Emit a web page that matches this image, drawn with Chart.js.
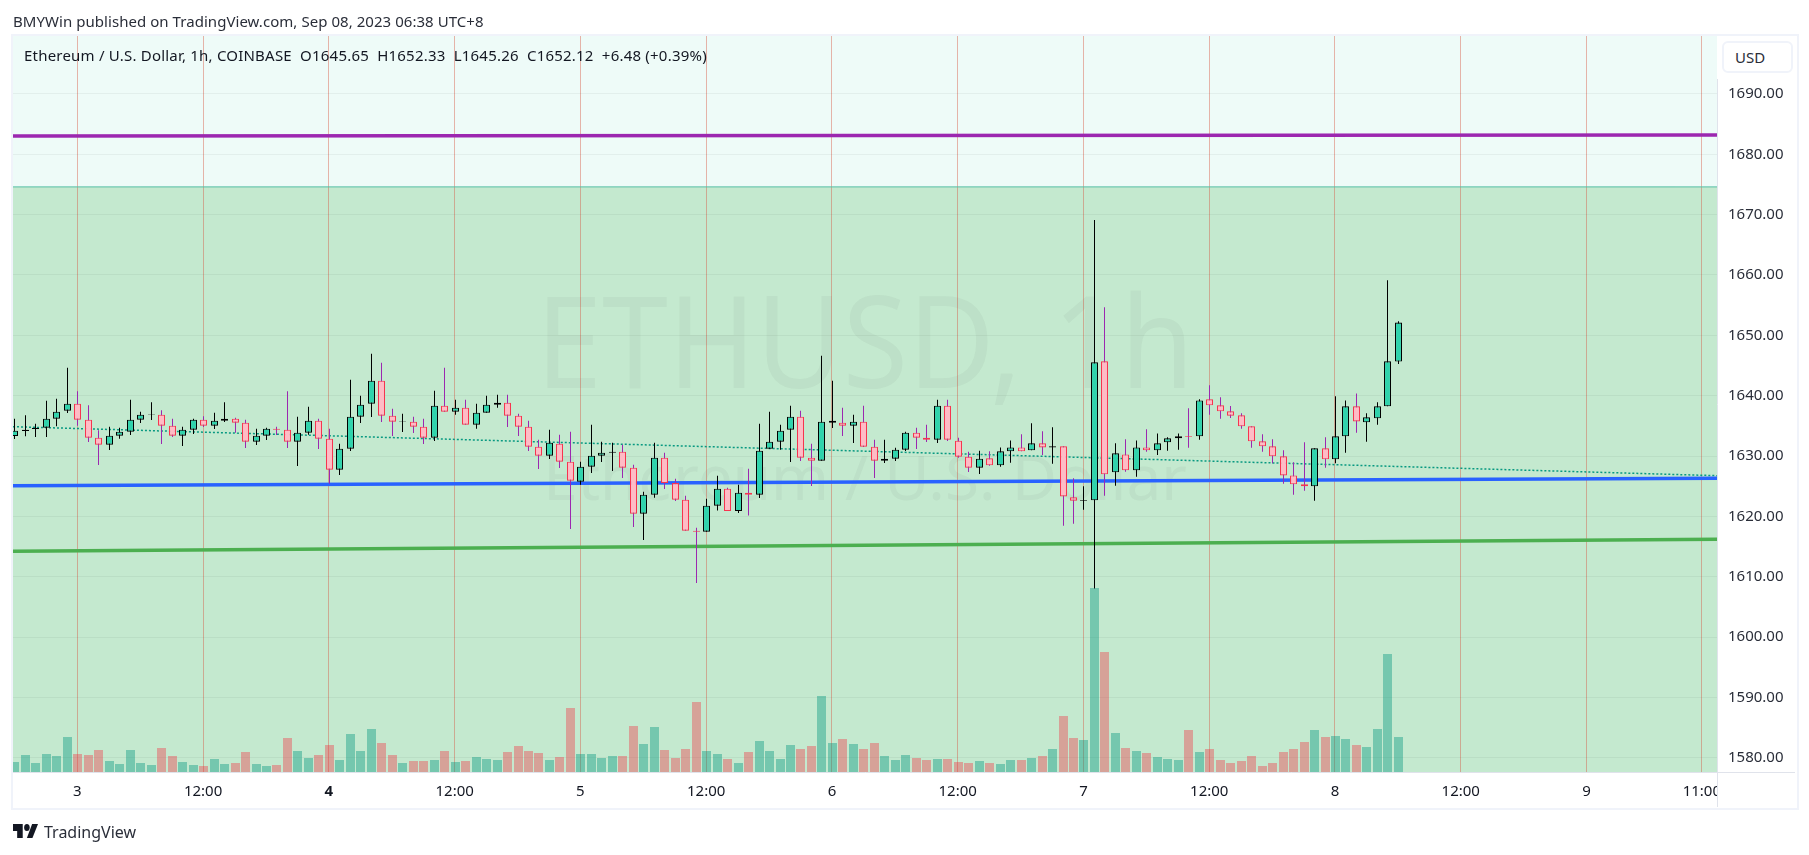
<!DOCTYPE html>
<html>
<head>
<meta charset="utf-8">
<title>ETHUSD, 1h</title>
<script src="https://cdn.jsdelivr.net/npm/chart.js@4"></script>
<style>
    html, body { margin: 0; background: #fff; }
    body { position: relative; width: 1809px; height: 855px; overflow: hidden; font-family: "Noto Sans", sans-serif; color: #131722; }
    canvas { position: absolute; left: 0; top: 0; }
    .abs { position: absolute; white-space: pre; }
    #frame { left: 11px; top: 34px; width: 1784px; height: 772px; border: 2px solid #f0f3fa; }
    #header { left: 13px; top: 11px; font-size: 15px; line-height: 20px; letter-spacing: 0.05px; color: #2a2e39; }
    #legend { left: 24px; top: 45px; font-size: 15px; line-height: 20px; letter-spacing: 0.21px; }
    #usdcell { left: 1717px; top: 36px; width: 78px; height: 43px; background: #fff; }
    #usd { left: 1722px; top: 41px; width: 67px; height: 28px; border: 2px solid #f0f3fa; border-radius: 6px; background: #fff; font-size: 15px; line-height: 29px; padding-left: 0; text-indent: 11px; color: #2a2e39; }
    #corner { left: 1717px; top: 772px; width: 77px; height: 34px; background: #fff; border-left: 1px solid #e0e3eb; border-top: 1px solid #e0e3eb; }
    #logo { left: 13px; top: 824px; }
    #brand { left: 44px; top: 820px; font-size: 16px; line-height: 24px; color: #2a2e39; }
</style>
</head>
<body>
<canvas id="chart" width="1809" height="855"></canvas>
<div class="abs" id="frame"></div>
<div class="abs" id="header">BMYWin published on TradingView.com, Sep 08, 2023 06:38 UTC+8</div>
<div class="abs" id="legend">Ethereum / U.S. Dollar, 1h, COINBASE  O1645.65  H1652.33  L1645.26  C1652.12  +6.48 (+0.39%)</div>
<div class="abs" id="usdcell"></div>
<div class="abs" id="usd">USD</div>
<div class="abs" id="corner"></div>
<svg class="abs" id="logo" width="25" height="14" viewBox="0 6 36 16" preserveAspectRatio="none"><path fill="#131722" d="M14 6H0v8h6v8h8V6Z"/><circle fill="#131722" cx="20" cy="10" r="4"/><path fill="#131722" d="M28 22h-8l7.5-16H36l-8 16Z"/></svg>
<div class="abs" id="brand">TradingView</div>
<script>
// hourly candles, Sep 2 18:00 to Sep 8 06:00
const opens = [1633.31,1634.14,1634.47,1634.69,1636.19,1637.51,1638.67,1636.02,1633.04,1631.88,1633.37,1634.03,1636.02,1636.79,1636.85,1635.03,1633.37,1634.36,1636.02,1635.03,1635.85,1636.19,1635.52,1632.37,1633.37,1634.53,1634.36,1632.37,1633.87,1635.85,1632.87,1627.73,1631.21,1636.52,1638.67,1642.48,1636.68,1635.63,1635.69,1634.86,1633.04,1638.34,1637.35,1638.01,1635.19,1637.18,1638.51,1638.84,1636.68,1634.86,1631.55,1630.05,1632.04,1629.06,1625.74,1628.23,1630.05,1630.55,1630.72,1628.06,1620.44,1623.59,1629.72,1625.52,1622.76,1617.62,1617.46,1621.77,1624.58,1620.88,1623.92,1623.59,1631.21,1632.37,1634.36,1636.52,1629.72,1629.22,1635.52,1635.52,1635.03,1635.69,1631.55,1629.22,1629.56,1631.05,1633.87,1633.04,1632.71,1638.34,1632.54,1629.89,1628.06,1629.61,1628.45,1630.77,1631.43,1630.94,1632.10,1631.43,1631.60,1623.15,1622.59,1622.65,1645.69,1627.29,1630.27,1627.62,1631.43,1630.94,1632.26,1632.93,1633.31,1633.26,1639.39,1638.40,1637.40,1636.74,1634.92,1632.43,1631.60,1629.94,1626.79,1625.30,1624.97,1631.27,1629.45,1633.26,1638.23,1635.58,1636.24,1638.23,1645.65];
const highs = [1636.19,1636.74,1635.36,1639.17,1639.50,1644.64,1640.72,1638.40,1634.25,1634.86,1634.69,1639.34,1637.35,1638.89,1637.57,1636.19,1634.86,1636.19,1636.57,1637.18,1638.89,1636.35,1636.02,1634.53,1634.69,1634.86,1640.72,1636.52,1638.18,1636.19,1634.53,1632.04,1642.65,1640.00,1646.96,1645.47,1637.84,1637.01,1636.52,1636.19,1640.83,1644.64,1639.34,1639.34,1638.67,1640.00,1640.16,1640.16,1637.01,1635.85,1632.71,1634.36,1633.53,1634.03,1629.06,1635.19,1632.37,1632.21,1631.88,1628.56,1624.09,1632.21,1630.55,1626.24,1623.42,1618.12,1622.93,1626.74,1624.75,1625.25,1627.90,1635.36,1637.35,1635.19,1638.34,1637.51,1632.04,1646.63,1642.48,1638.01,1636.85,1638.34,1632.71,1632.71,1631.38,1634.03,1634.69,1635.19,1639.34,1639.34,1633.04,1630.72,1630.88,1630.77,1631.43,1632.59,1633.59,1635.41,1634.09,1634.75,1631.60,1626.30,1624.97,1669.11,1654.64,1632.10,1632.76,1632.59,1634.42,1633.75,1633.09,1633.75,1637.90,1639.39,1641.71,1639.72,1638.29,1637.07,1634.92,1633.59,1632.76,1630.94,1628.95,1632.26,1631.27,1633.09,1639.89,1639.22,1640.38,1637.07,1638.89,1659.11,1652.33];
const lows = [1632.82,1633.26,1633.15,1633.15,1634.92,1637.13,1635.03,1632.32,1628.51,1630.99,1632.87,1633.48,1635.47,1635.97,1631.99,1633.15,1631.66,1633.64,1634.80,1634.47,1635.63,1633.87,1631.32,1631.82,1632.65,1633.48,1631.32,1628.34,1633.53,1631.16,1625.41,1626.85,1630.83,1635.47,1636.46,1635.63,1633.31,1633.98,1633.81,1631.99,1632.48,1637.35,1636.85,1635.19,1634.53,1637.18,1638.01,1634.80,1633.31,1630.83,1627.84,1629.50,1628.01,1617.90,1625.25,1627.18,1629.00,1627.51,1626.35,1618.23,1616.08,1623.09,1624.53,1622.54,1617.62,1608.95,1617.46,1620.99,1620.88,1620.55,1620.16,1623.04,1631.21,1631.05,1629.00,1629.17,1625.03,1629.22,1634.64,1633.31,1632.15,1631.49,1626.35,1628.84,1629.17,1630.83,1631.16,1632.32,1632.15,1632.48,1629.72,1627.35,1627.01,1628.40,1628.23,1628.89,1630.77,1630.94,1630.16,1628.73,1618.45,1618.78,1621.10,1608.06,1623.42,1625.08,1627.40,1626.57,1630.72,1630.16,1630.88,1631.05,1631.38,1632.71,1636.85,1636.19,1636.30,1634.53,1631.38,1630.72,1628.78,1625.41,1623.59,1624.25,1622.59,1628.06,1628.78,1630.55,1633.87,1632.37,1635.19,1638.23,1645.26];
const closes = [1634.20,1634.36,1634.69,1636.19,1637.35,1638.67,1636.02,1633.04,1631.88,1633.37,1634.03,1636.02,1636.85,1636.90,1635.03,1633.37,1634.36,1636.02,1635.03,1635.85,1636.19,1635.52,1632.37,1633.37,1634.53,1634.36,1632.37,1633.87,1635.85,1632.87,1627.73,1631.21,1636.52,1638.51,1642.48,1636.68,1635.69,1635.74,1634.86,1633.04,1638.34,1637.35,1638.01,1635.19,1637.18,1638.51,1638.84,1636.68,1634.86,1631.55,1630.05,1632.21,1629.06,1625.91,1628.23,1630.05,1630.55,1630.72,1628.06,1620.44,1623.59,1629.72,1625.52,1622.76,1617.62,1617.46,1621.77,1624.58,1620.88,1623.92,1623.59,1630.88,1632.37,1634.20,1636.52,1629.72,1629.22,1635.69,1635.85,1635.03,1635.69,1631.55,1629.22,1629.56,1631.05,1633.87,1633.04,1632.71,1638.34,1632.71,1629.89,1628.06,1629.56,1628.45,1630.77,1631.43,1630.77,1632.10,1631.43,1631.60,1623.31,1622.59,1622.70,1645.52,1626.96,1630.44,1627.62,1631.43,1630.94,1632.10,1632.93,1633.26,1633.20,1639.22,1638.40,1637.40,1636.68,1634.92,1632.43,1631.60,1629.94,1626.79,1625.30,1624.97,1631.27,1629.45,1633.26,1638.23,1635.74,1636.41,1638.23,1645.69,1652.12];
// no volume scale on the picture: these are bar heights as read off it
const volumes = [10,17,9,18,16,35,18,17,22,11,8,22,9,7,24,16,10,7,6,13,8,9,20,8,6,7,34,21,14,17,27,12,38,21,43,29,17,9,11,11,12,21,10,11,15,13,12,20,26,21,19,12,15,64,18,18,14,16,16,46,28,45,22,14,23,70,21,18,13,9,20,31,21,13,27,23,26,76,29,33,28,23,29,16,12,17,14,12,13,13,10,9,11,9,8,12,12,14,16,23,56,34,32,184,120,39,24,21,19,15,13,12,42,20,23,12,9,11,16,6,9,20,23,30,42,35,36,33,27,25,43,118,35];

const xTicks = [6,18,30,42,54,66,78,90,102,114,126,138,150,161];
const xLabels = ['3','12:00','4','12:00','5','12:00','6','12:00','7','12:00','8','12:00','9','11:00'];
const priceTicks = [1580,1590,1600,1610,1620,1630,1640,1650,1660,1670,1680,1690];

const xMin = -0.14, xMax = 162.45;
const priceMin = 1577.63, priceMax = 1699.61;
const volumeMax = 736;
const zoneTop = 1674.6;

// drawn lines: value at the left and the right end of the plot
const lineEnds = [xMin, xMax];
const purpleLine = [1683.03, 1683.2];
const blueLine = [1625.08, 1626.3];
const greenLine = [1614.2, 1616.2];
const dottedLine = [1634.86, 1626.74];
const zoneLine = [zoneTop, zoneTop];

const UP_BODY = '#2fd3ac', DOWN_BODY = '#ffbbc5';
const DOWN_EDGE = '#f7344f', WICK_DOWN = '#9c27b0';

function isUp(i) { return closes[i] >= opens[i]; }

function endPoints(values) {
    return lineEnds.map((x, i) => ({ x: x, y: values[i] }));
}

function trendLine(label, values, color, width) {
    return {
        type: 'line',
        label: label,
        data: endPoints(values),
        borderColor: color,
        borderWidth: width,
        pointRadius: 0,
        order: 4,
    };
}

// zones and watermark go under the grid and the candles
const backdrop = {
    id: 'backdrop',
    beforeDraw(chart) {
        const { ctx, chartArea: area, scales } = chart;
        const edge = scales.y.getPixelForValue(zoneTop);
        ctx.save();
        ctx.fillStyle = '#eefbf8';
        ctx.fillRect(area.left, area.top, area.width, edge - area.top);
        ctx.fillStyle = '#c4e9cf';
        ctx.fillRect(area.left, edge, area.width, area.bottom - edge);
        ctx.restore();
    },
    beforeDatasetsDraw(chart) {
        const { ctx, chartArea: area } = chart;
        const mid = (area.left + area.right) / 2;
        ctx.save();
        ctx.fillStyle = 'rgba(42, 46, 57, 0.045)';
        ctx.textAlign = 'center';
        ctx.textBaseline = 'alphabetic';
        ctx.font = '128px "Noto Sans"';
        ctx.fillText('ETHUSD, 1h', mid, 388, 658);
        ctx.font = '62px "Noto Sans"';
        ctx.fillText('Ethereum / U.S. Dollar', mid, 500, 646);
        ctx.restore();
    },
    // snap the bars to whole pixels so wicks stay sharp
    beforeDatasetDraw(chart, args) {
        if (args.meta.type !== 'bar') return;
        args.meta.data.forEach(el => { el.x = Math.round(el.x) + 0.5; });
    },
};

const candleX = opens.map((_, i) => i);

const data = {
    datasets: [
        {
            type: 'bar',
            label: 'Volume',
            yAxisID: 'vol',
            data: candleX.map(i => ({ x: i, y: volumes[i] })),
            backgroundColor: candleX.map(i => isUp(i) ? 'rgba(8, 153, 129, 0.42)' : 'rgba(242, 54, 69, 0.4)'),
            barThickness: 9,
            grouped: false,
            inflateAmount: 0,
            order: 5,
        },
        trendLine('Zone', zoneLine, '#55bfa5', 1),
        trendLine('Purple', purpleLine, '#9c27b0', 3.5),
        trendLine('Blue', blueLine, '#2962ff', 3.5),
        trendLine('Green', greenLine, '#4caf50', 3.5),
        Object.assign(trendLine('Dotted', dottedLine, '#089981', 1.5), { borderDash: [2, 2] }),
        {
            type: 'bar',
            label: 'Wicks',
            data: candleX.map(i => ({ x: i, y: [lows[i], highs[i]] })),
            backgroundColor: candleX.map(i => isUp(i) ? '#000000' : WICK_DOWN),
            barThickness: 1,
            grouped: false,
            inflateAmount: 0,
            order: 2,
        },
        {
            type: 'bar',
            label: 'Bodies',
            data: candleX.map(i => ({ x: i, y: [opens[i], closes[i]] })),
            backgroundColor: candleX.map(i => isUp(i) ? UP_BODY : DOWN_BODY),
            borderColor: candleX.map(i => isUp(i) ? '#000000' : DOWN_EDGE),
            borderWidth: 1.1,
            borderSkipped: false,
            barThickness: 7,
            grouped: false,
            inflateAmount: 0,
            order: 1,
        },
    ],
};

const config = {
    type: 'bar',
    data: data,
    plugins: [backdrop],
    options: {
        responsive: false,
        animation: false,
        devicePixelRatio: 1,
        layout: { padding: { left: 13, top: 36, right: 14, bottom: 47 } },
        plugins: {
            legend: { display: false },
            title: { display: false },
            tooltip: { enabled: false },
        },
        scales: {
            x: {
                type: 'linear',
                offset: false,
                min: xMin,
                max: xMax,
                afterBuildTicks: scale => { scale.ticks = xTicks.map(v => ({ value: v })); },
                afterFit: scale => { scale.height = 36; },
                grid: { offset: false, color: 'rgba(214, 92, 72, 0.45)', lineWidth: 1, drawTicks: false },
                border: { display: true, color: '#e0e3eb' },
                ticks: {
                    autoSkip: false,
                    maxRotation: 0,
                    padding: 11,
                    color: '#131722',
                    font: ctx => ({ family: '"Noto Sans"', size: 15, weight: ctx.tick && ctx.tick.value === 30 ? 'bold' : 'normal' }),
                    callback: value => xLabels[xTicks.indexOf(value)],
                },
            },
            y: {
                type: 'linear',
                position: 'right',
                min: priceMin,
                max: priceMax,
                afterBuildTicks: scale => { scale.ticks = priceTicks.map(v => ({ value: v })); },
                afterFit: scale => { scale.width = 78; },
                grid: { color: 'rgba(42, 46, 57, 0.06)', lineWidth: 1, drawTicks: false },
                border: { display: true, color: '#e0e3eb' },
                ticks: {
                    padding: 11,
                    color: '#2a2e39',
                    font: { family: '"Noto Sans"', size: 15 },
                    callback: value => value.toFixed(2),
                },
            },
            vol: {
                type: 'linear',
                display: false,
                min: 0,
                max: volumeMax,
            },
        },
    },
};

new Chart(document.getElementById('chart'), config);
</script>
</body>
</html>
